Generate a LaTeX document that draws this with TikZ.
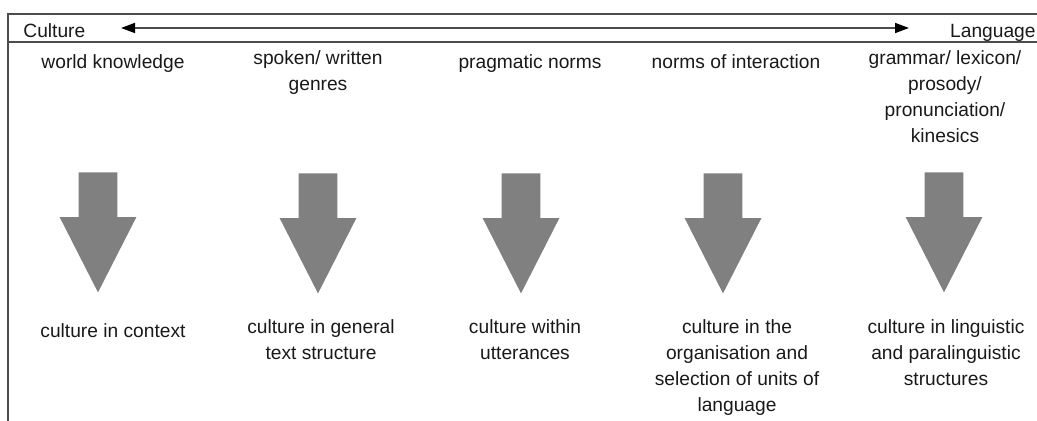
\documentclass[tikz,border=0pt]{standalone}
\usepackage{fontspec}
\setmainfont{Liberation Sans}
\usetikzlibrary{arrows.meta, positioning, shapes.arrows}

\begin{document}
\begin{tikzpicture}[
				x=0.5pt, y=-0.5pt,
				level/.style={align=center, inner sep=0pt, anchor=north, text=black!90, font=\fontsize{9.6}{13}\selectfont, execute at begin node=\strut},
				endword/.style={inner sep=0pt, text=black!90, font=\fontsize{9.6}{13}\selectfont},
				downarrow/.style={single arrow, draw=none, fill=black!50, rotate=-90, anchor=tail, inner xsep=0pt, inner ysep=9.5pt, minimum height=60pt, minimum width=38pt, single arrow head extend=9.5pt, single arrow tip angle=54},
				scale arrow/.style={{Triangle[length=7pt, width=5pt, black]}-{Triangle[length=7pt, width=5pt, black]}, draw=black!70, line width=0.8pt},
				rule/.style={draw=black!70, line width=0.8pt}
				]
				
				\useasboundingbox (0,0) rectangle (1037,421);
				
				% frame
				\draw[rule] (8,421) -- (8,14) -- (1037,14);
				\draw[rule] (8,42) -- (1037,42);
				
				% culture <-> language scale
				\node[endword, anchor=base west] (culture) at (23,38) {Culture};
				\node[endword, anchor=base east] (language) at (1036,38) {Language};
				\coordinate (scaleleft) at (121,28);
				\coordinate (scaleright) at (909,28);
				\draw[scale arrow] (scaleleft) -- (scaleright);
				
				% what is taught
				\node[level] (knowledge) at (113,50) {world knowledge};
				\node[level] (genres) at (318,50) {spoken/ written\\genres};
				\node[level] (pragmatic) at (530,50) {pragmatic norms};
				\node[level] (interaction) at (736,50) {norms of interaction};
				\node[level] (grammar) at (945,50) {grammar/ lexicon/\\prosody/\\pronunciation/\\kinesics};
				
				\node[downarrow] (down1) at (98,172) {};
				\node[downarrow] (down2) at (318,173) {};
				\node[downarrow] (down3) at (521,173) {};
				\node[downarrow] (down4) at (723,173) {};
				\node[downarrow] (down5) at (944,172) {};
				
				% where culture is found
				\node[level] (context) at (113,319) {culture in context};
				\node[level] (textstructure) at (321,319) {culture in general\\text structure};
				\node[level] (utterances) at (525,319) {culture within\\utterances};
				\node[level] (units) at (737,319) {culture in the\\organisation and\\selection of units of\\language};
				\node[level] (linguistic) at (946,319) {culture in linguistic\\and paralinguistic\\structures};
				
			\end{tikzpicture}
\end{document}
